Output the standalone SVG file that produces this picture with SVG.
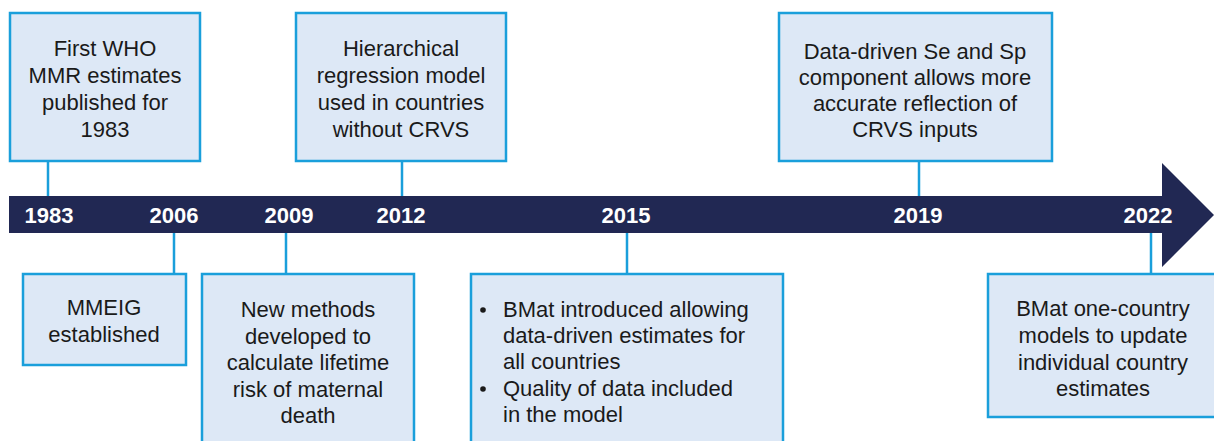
<svg xmlns="http://www.w3.org/2000/svg" width="1214" height="441" viewBox="0 0 1214 441">
<style>
.box{fill:#dde8f6;stroke:#1a9fdb;stroke-width:2.5}
.t{font-family:"Liberation Sans",Arial,sans-serif;font-size:22px;fill:#1a1a1a;text-anchor:middle}
.tl{font-family:"Liberation Sans",Arial,sans-serif;font-size:22px;fill:#1a1a1a}
.yr{font-family:"Liberation Sans",Arial,sans-serif;font-size:22px;font-weight:bold;fill:#ffffff;text-anchor:middle}
.con{stroke:#1a9fdb;stroke-width:2.5;fill:none}
</style>
<rect width="1214" height="441" fill="#ffffff"/>
<g id="connectors">
<line class="con" x1="48" y1="161" x2="48" y2="197"/>
<line class="con" x1="402" y1="161" x2="402" y2="197"/>
<line class="con" x1="919" y1="161" x2="919" y2="197"/>
<line class="con" x1="174" y1="232" x2="174" y2="274"/>
<line class="con" x1="286" y1="232" x2="286" y2="274"/>
<line class="con" x1="627" y1="232" x2="627" y2="274"/>
<line class="con" x1="1151" y1="232" x2="1151" y2="274"/>
</g>
<g id="timeline">
<path d="M9 196 H1162 V163 L1214 215 L1162 267 V233 H9 Z" fill="#212853"/>
<text class="yr" x="49" y="223">1983</text>
<text class="yr" x="174" y="223">2006</text>
<text class="yr" x="289" y="223">2009</text>
<text class="yr" x="401" y="223">2012</text>
<text class="yr" x="626" y="223">2015</text>
<text class="yr" x="918" y="223">2019</text>
<text class="yr" x="1148" y="223">2022</text>
</g>
<g id="n1983">
<rect class="box" x="10" y="13" width="190" height="148"/>
<text class="t" x="105" y="56">First WHO</text>
<text class="t" x="105" y="83">MMR estimates</text>
<text class="t" x="105" y="110">published for</text>
<text class="t" x="105" y="137">1983</text>
</g>
<g id="n2012">
<rect class="box" x="296" y="13" width="210" height="148"/>
<text class="t" x="401" y="56">Hierarchical</text>
<text class="t" x="401" y="83">regression model</text>
<text class="t" x="401" y="110">used in countries</text>
<text class="t" x="401" y="137">without CRVS</text>
</g>
<g id="n2019">
<rect class="box" x="779" y="13" width="273" height="148"/>
<text class="t" x="915" y="59">Data-driven Se and Sp</text>
<text class="t" x="915" y="85">component allows more</text>
<text class="t" x="915" y="111">accurate reflection of</text>
<text class="t" x="915" y="137">CRVS inputs</text>
</g>
<g id="n2006">
<rect class="box" x="23" y="274" width="163" height="91"/>
<text class="t" x="104" y="315">MMEIG</text>
<text class="t" x="104" y="342">established</text>
</g>
<g id="n2009">
<rect class="box" x="202" y="274" width="212" height="180"/>
<text class="t" x="308" y="317">New methods</text>
<text class="t" x="308" y="344">developed to</text>
<text class="t" x="308" y="370">calculate lifetime</text>
<text class="t" x="308" y="397">risk of maternal</text>
<text class="t" x="308" y="423">death</text>
</g>
<g id="n2015">
<rect class="box" x="471" y="274" width="312" height="180"/>
<circle cx="483" cy="310" r="2.8" fill="#1a1a1a"/>
<text class="tl" x="503" y="317">BMat introduced allowing</text>
<text class="tl" x="503" y="343">data-driven estimates for</text>
<text class="tl" x="503" y="369">all countries</text>
<circle cx="483" cy="389" r="2.8" fill="#1a1a1a"/>
<text class="tl" x="503" y="396">Quality of data included</text>
<text class="tl" x="503" y="422">in the model</text>
</g>
<g id="n2022">
<rect class="box" x="988" y="274" width="240" height="143"/>
<text class="t" x="1103" y="316">BMat one-country</text>
<text class="t" x="1103" y="343">models to update</text>
<text class="t" x="1103" y="370">individual country</text>
<text class="t" x="1103" y="396">estimates</text>
</g>
</svg>
